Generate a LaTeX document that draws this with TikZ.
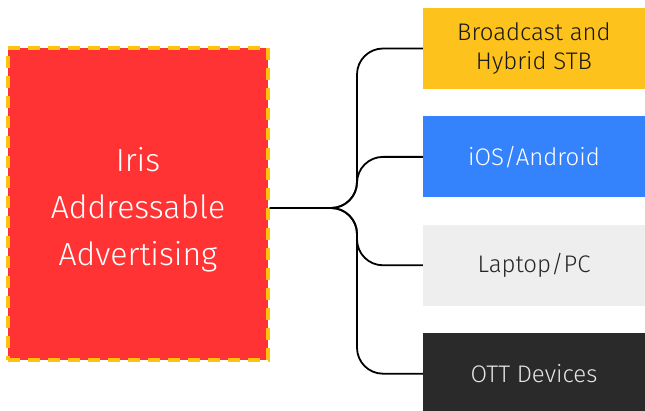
\documentclass[tikz,border=0pt]{standalone}
\usepackage{fontspec}
\setmainfont{Fira Sans}[UprightFont=* Light]
\usepackage{xcolor}
\usetikzlibrary{positioning}

\definecolor{irisred}{HTML}{FF3333}
\definecolor{dashgold}{HTML}{FFC20E}
\definecolor{stbyellow}{HTML}{FDC21C}
\definecolor{mobblue}{HTML}{3583FC}
\definecolor{pcgray}{HTML}{EEEEEE}
\definecolor{ottdark}{HTML}{2A2A2A}

\begin{document}
\begin{tikzpicture}[
    x=1pt, y=-1pt,
    node distance=27pt,
    target/.style={rectangle, inner sep=0pt, minimum width=222pt, minimum height=81pt, text centered, align=center, font=\fontsize{24}{29}\selectfont},
    link/.style={line width=1.8pt, rounded corners=26pt}
]
    \useasboundingbox (0,0) rectangle (645,411);

    \node[rectangle, fill=irisred, draw=dashgold, line width=3.5pt, dash pattern=on 12pt off 8pt,
          minimum width=260pt, minimum height=312pt,
          label={[text=white, align=center, font=\fontsize{32}{47}\selectfont, yshift=-6pt]center:{Iris\\Addressable\\Advertising}}] (iris) at (138,204) {};

    \node[target, fill=stbyellow, text=black!90] (bcast) at (534,48.5) {Broadcast and\\Hybrid STB};
    \node[target, fill=mobblue, text=white, below=of bcast] (mobile) {iOS/Android};
    \node[target, fill=pcgray, text=black!85, below=of mobile] (laptop) {Laptop/PC};
    \node[target, fill=ottdark, text=white!90!black, below=of laptop] (ott) {OTT Devices};

    \coordinate (trunk) at (357,208);

    \draw[link] (iris.east |- trunk) -| (trunk |- bcast.west) -- (bcast.west);
    \draw[link] (iris.east |- trunk) -| (trunk |- mobile.west) -- (mobile.west);
    \draw[link] (iris.east |- trunk) -| (trunk |- laptop.west) -- (laptop.west);
    \draw[link] (iris.east |- trunk) -| (trunk |- ott.west) -- (ott.west);
\end{tikzpicture}
\end{document}
